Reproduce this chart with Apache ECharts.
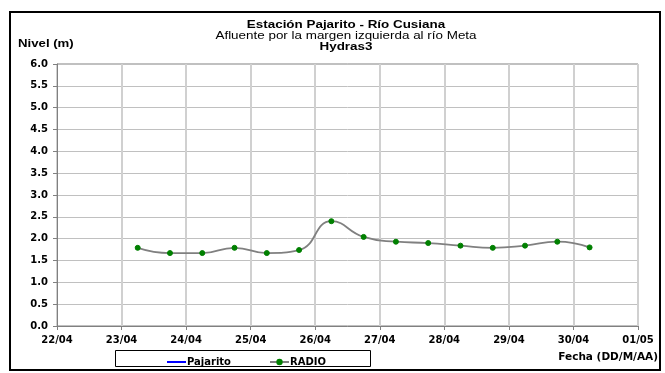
<!DOCTYPE html>
<html>
<head>
<meta charset="utf-8">
<script src="https://cdn.jsdelivr.net/npm/echarts@6/dist/echarts.min.js"></script>
<style>html,body{margin:0;padding:0;background:#fff}#c{width:665px;height:373px}</style>
</head>
<body>
<div id="c"></div>
<script>
const tickLabels = ['22/04','23/04','24/04','25/04','26/04','27/04','28/04','29/04','30/04','01/05'];
const axisStart = '2009-04-22T00:00:00Z';
const axisEnd = '2009-05-01T00:00:00Z';
const times = [
  '2009-04-23T06:00:00Z','2009-04-23T18:00:00Z','2009-04-24T06:00:00Z','2009-04-24T18:00:00Z',
  '2009-04-25T06:00:00Z','2009-04-25T18:00:00Z','2009-04-26T06:00:00Z','2009-04-26T18:00:00Z',
  '2009-04-27T06:00:00Z','2009-04-27T18:00:00Z','2009-04-28T06:00:00Z','2009-04-28T18:00:00Z',
  '2009-04-29T06:00:00Z','2009-04-29T18:00:00Z','2009-04-30T06:00:00Z'
];
const radio = [1.79,1.67,1.67,1.79,1.67,1.74,2.40,2.04,1.93,1.90,1.84,1.79,1.84,1.93,1.80];
const pajarito = [];

const DAY = 86400000;
const FONT = "'Liberation Sans', Arial, sans-serif";
const WFONT = "'DejaVu Sans', 'Liberation Sans', sans-serif";
const t0 = Date.parse(axisStart);
const chart = echarts.init(document.getElementById('c'), null, {renderer:'canvas'});
chart.setOption({
  animation:false,
  backgroundColor:'#fff',
  textStyle:{fontFamily:WFONT},
  grid:{left:57,right:27,top:64,bottom:47,show:true,borderColor:'#808080',borderWidth:1},
  xAxis:{
    type:'value', min:Date.parse(axisStart), max:Date.parse(axisEnd), interval:DAY,
    axisLine:{lineStyle:{color:'#808080'}},
    axisTick:{show:true,length:4,lineStyle:{color:'#808080'}},
    axisLabel:{color:'#000',fontWeight:'bold',fontSize:10,fontFamily:WFONT,margin:9,
      formatter:v=>tickLabels[Math.round((v-t0)/DAY)] || ''},
    splitLine:{show:true,lineStyle:{color:'#d0d0d0',width:2}}
  },
  yAxis:{
    type:'value', min:0, max:6, interval:0.5,
    axisLine:{show:true,lineStyle:{color:'#808080'}},
    axisTick:{show:true,length:4,lineStyle:{color:'#808080'}},
    axisLabel:{color:'#000',fontWeight:'bold',fontSize:10,fontFamily:WFONT,margin:9,formatter:v=>v.toFixed(1)},
    splitLine:{show:true,lineStyle:{color:'#c0c0c0',width:1}}
  },
  legend:{
    left:162, top:352, itemGap:38, itemWidth:19, itemHeight:8,
    textStyle:{fontWeight:'bold',fontSize:10,fontFamily:WFONT,color:'#000',padding:[0,0,0,-4]},
    data:[
      {name:'Pajarito',icon:'path://M0,0H19V0H0Z M0,3H19V5H0Z M0,8H19V8H0Z',itemStyle:{color:'#0000ff'}},
      'RADIO'
    ]
  },
  series:[
    {name:'Pajarito',type:'line',data:pajarito,symbol:'none',lineStyle:{color:'#0000ff',width:1.5},itemStyle:{color:'#0000ff'}},
    {name:'RADIO',type:'line',smooth:0.5,data:times.map((t,i)=>[Date.parse(t),radio[i]]),
      symbol:'circle',symbolSize:5,
      lineStyle:{color:'#808080',width:1.8},
      itemStyle:{color:'#008000',borderColor:'#008000'}}
  ],
  graphic:[
    {type:'rect',shape:{x:10,y:12,width:650,height:358},style:{fill:'none',stroke:'#000',lineWidth:2},silent:true},
    {type:'rect',shape:{x:115.5,y:350.5,width:255,height:16},style:{fill:'none',stroke:'#000',lineWidth:1},silent:true,z:-1},
    {type:'text',x:346,y:19,scaleX:1.22,style:{text:'Estación Pajarito - Río Cusiana',font:"bold 11px "+FONT,fill:'#000',textAlign:'center'}},
    {type:'text',x:346,y:30,scaleX:1.22,style:{text:'Afluente por la margen izquierda al río Meta',font:"11px "+FONT,fill:'#000',textAlign:'center'}},
    {type:'text',x:346,y:41,scaleX:1.22,style:{text:'Hydras3',font:"bold 11px "+FONT,fill:'#000',textAlign:'center'}},
    {type:'text',x:18,y:38,scaleX:1.2,style:{text:'Nivel (m)',font:"bold 11px "+FONT,fill:'#000'}},
    {type:'text',x:658,y:352,style:{text:'Fecha (DD/M/AA)',font:"bold 10.5px "+WFONT,fill:'#000',textAlign:'right'}}
  ]
});
</script>
</body>
</html>
